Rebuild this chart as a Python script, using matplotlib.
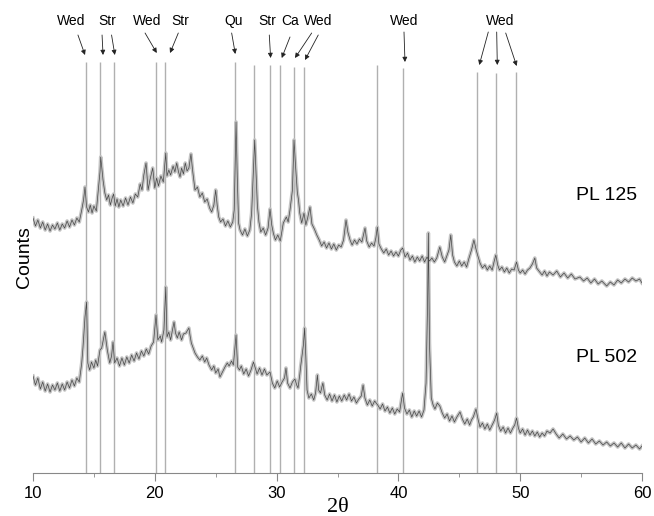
import matplotlib
matplotlib.use("Agg")
import matplotlib.pyplot as plt

# XRD patterns, counts are arbitrary units
pl125 = [
    (10.0, 255), (10.2, 247), (10.4, 253), (10.6, 245), (10.8, 251), (11.0, 243), (11.2, 249),
    (11.4, 242), (11.6, 248), (11.8, 244), (12.0, 250), (12.2, 243), (12.4, 249), (12.6, 245),
    (12.8, 252), (13.0, 246), (13.2, 253), (13.4, 248), (13.6, 255), (13.8, 251), (14.0, 263),
    (14.15, 273), (14.27, 286), (14.4, 266), (14.55, 261), (14.7, 268), (14.85, 260), (15.0, 267),
    (15.2, 262), (15.36, 283), (15.5, 301), (15.56, 316), (15.65, 305), (15.75, 293), (15.9, 280),
    (16.05, 273), (16.2, 278), (16.35, 268), (16.5, 275), (16.62, 279), (16.75, 267), (16.9, 274),
    (17.05, 266), (17.2, 273), (17.4, 267), (17.6, 275), (17.8, 268), (18.0, 276), (18.2, 270),
    (18.4, 279), (18.6, 276), (18.8, 289), (18.95, 283), (19.1, 298), (19.28, 310), (19.45, 283),
    (19.6, 293), (19.83, 305), (20.0, 285), (20.15, 295), (20.3, 287), (20.5, 297), (20.7, 291),
    (20.9, 320), (21.0, 297), (21.15, 303), (21.3, 298), (21.5, 307), (21.65, 301), (21.8, 310),
    (21.95, 301), (22.07, 296), (22.2, 305), (22.35, 299), (22.5, 310), (22.65, 302), (22.8, 305),
    (22.97, 319), (23.1, 303), (23.2, 293), (23.3, 283), (23.5, 286), (23.7, 276), (23.9, 280),
    (24.1, 271), (24.3, 274), (24.5, 265), (24.67, 261), (24.85, 268), (25.0, 283), (25.12, 268),
    (25.25, 256), (25.4, 251), (25.6, 254), (25.8, 247), (26.0, 252), (26.2, 246), (26.4, 251),
    (26.52, 263), (26.67, 351), (26.77, 296), (26.88, 250), (27.0, 243), (27.2, 238), (27.4, 244),
    (27.6, 237), (27.8, 243), (27.95, 260), (28.08, 298), (28.2, 333), (28.3, 303), (28.42, 268),
    (28.55, 251), (28.7, 241), (28.9, 245), (29.1, 238), (29.3, 245), (29.46, 264), (29.6, 248),
    (29.73, 240), (29.9, 233), (30.1, 238), (30.3, 232), (30.45, 243), (30.55, 250), (30.8, 256),
    (30.95, 251), (31.1, 263), (31.3, 283), (31.43, 333), (31.55, 308), (31.7, 281), (31.8, 273),
    (31.9, 260), (32.06, 250), (32.25, 260), (32.4, 248), (32.55, 255), (32.74, 266), (32.9, 249),
    (33.1, 244), (33.3, 238), (33.5, 233), (33.7, 227), (33.9, 231), (34.1, 225), (34.3, 230),
    (34.5, 224), (34.7, 229), (34.9, 223), (35.1, 228), (35.3, 226), (35.5, 233), (35.7, 253),
    (35.85, 241), (36.03, 233), (36.2, 228), (36.4, 233), (36.6, 229), (36.8, 234), (37.0, 231),
    (37.15, 239), (37.26, 245), (37.4, 232), (37.6, 226), (37.8, 230), (38.0, 227), (38.15, 235),
    (38.27, 246), (38.4, 229), (38.6, 224), (38.8, 220), (39.0, 224), (39.2, 218), (39.4, 222),
    (39.6, 217), (39.8, 221), (40.0, 217), (40.2, 223), (40.35, 225), (40.55, 216), (40.75, 220),
    (40.95, 213), (41.15, 217), (41.35, 211), (41.55, 216), (41.75, 212), (41.95, 217), (42.15, 211),
    (42.35, 216), (42.55, 212), (42.75, 215), (42.95, 211), (43.15, 215), (43.4, 226), (43.6, 216),
    (43.8, 211), (44.0, 218), (44.15, 223), (44.3, 238), (44.45, 218), (44.6, 211), (44.8, 207),
    (45.0, 212), (45.2, 207), (45.4, 211), (45.6, 206), (45.8, 215), (46.0, 223), (46.2, 233),
    (46.35, 225), (46.5, 218), (46.7, 210), (46.9, 205), (47.1, 208), (47.3, 203), (47.5, 207),
    (47.7, 203), (47.85, 211), (48.0, 218), (48.15, 208), (48.3, 203), (48.5, 206), (48.7, 201),
    (48.9, 205), (49.1, 200), (49.3, 204), (49.5, 203), (49.7, 211), (49.85, 203), (50.0, 200),
    (50.2, 203), (50.4, 199), (50.6, 203), (50.8, 205), (51.0, 209), (51.2, 215), (51.35, 205),
    (51.6, 201), (51.8, 198), (52.0, 202), (52.2, 197), (52.4, 201), (52.7, 198), (53.0, 202),
    (53.3, 196), (53.6, 200), (53.9, 195), (54.2, 199), (54.5, 194), (54.9, 196), (55.2, 192),
    (55.5, 195), (55.8, 190), (56.1, 194), (56.4, 189), (56.7, 192), (57.1, 187), (57.4, 191),
    (57.7, 188), (58.0, 193), (58.3, 190), (58.6, 194), (58.9, 191), (59.2, 195), (59.5, 192),
    (59.8, 194), (60.0, 190),
]

pl502 = [
    (10.0, 97), (10.2, 88), (10.4, 95), (10.6, 84), (10.8, 91), (11.0, 82), (11.2, 89),
    (11.4, 81), (11.6, 88), (11.8, 83), (12.0, 90), (12.2, 82), (12.4, 89), (12.6, 83),
    (12.8, 91), (13.0, 85), (13.2, 93), (13.4, 87), (13.6, 95), (13.8, 91), (14.0, 110),
    (14.1, 125), (14.27, 156), (14.4, 171), (14.5, 110), (14.65, 103), (14.8, 111), (15.0, 105),
    (15.15, 113), (15.3, 107), (15.5, 123), (15.64, 125), (15.9, 141), (16.1, 123), (16.3, 110),
    (16.45, 117), (16.57, 131), (16.7, 110), (16.9, 115), (17.1, 107), (17.3, 115), (17.5, 108),
    (17.7, 116), (17.9, 110), (18.1, 118), (18.3, 112), (18.5, 120), (18.7, 114), (18.9, 122),
    (19.1, 117), (19.3, 124), (19.5, 119), (19.7, 127), (19.9, 131), (20.1, 158), (20.25, 133),
    (20.45, 137), (20.56, 131), (20.75, 143), (20.9, 186), (21.0, 136), (21.15, 141), (21.3, 133),
    (21.45, 143), (21.58, 151), (21.7, 140), (21.85, 135), (22.0, 141), (22.2, 133), (22.35, 139),
    (22.56, 140), (22.8, 145), (22.9, 137), (23.0, 130), (23.15, 125), (23.3, 120), (23.5, 116),
    (23.7, 113), (23.9, 117), (24.1, 111), (24.26, 115), (24.45, 108), (24.67, 103), (24.85, 107),
    (25.0, 100), (25.2, 104), (25.35, 96), (25.55, 101), (25.76, 106), (25.95, 110), (26.1, 107),
    (26.3, 112), (26.45, 108), (26.55, 121), (26.67, 138), (26.8, 106), (26.95, 103), (27.1, 107),
    (27.3, 99), (27.5, 104), (27.7, 97), (27.9, 103), (28.1, 111), (28.25, 105), (28.4, 99),
    (28.6, 105), (28.8, 98), (29.0, 104), (29.2, 98), (29.46, 101), (29.65, 90), (29.85, 85),
    (30.05, 92), (30.25, 86), (30.45, 91), (30.65, 95), (30.77, 105), (30.9, 90), (31.1, 85),
    (31.3, 91), (31.5, 94), (31.65, 88), (31.76, 85), (31.9, 98), (31.98, 107), (32.1, 118),
    (32.2, 128), (32.3, 145), (32.4, 116), (32.5, 83), (32.65, 75), (32.85, 79), (33.05, 73),
    (33.2, 80), (33.35, 98), (33.45, 83), (33.6, 80), (33.8, 90), (33.95, 78), (34.15, 73),
    (34.35, 79), (34.55, 72), (34.75, 78), (34.95, 71), (35.15, 77), (35.35, 72), (35.55, 78),
    (35.75, 73), (35.95, 79), (36.15, 72), (36.35, 76), (36.55, 70), (36.75, 74), (36.95, 77),
    (37.1, 88), (37.25, 75), (37.45, 68), (37.65, 73), (37.85, 67), (38.05, 72), (38.3, 68),
    (38.5, 64), (38.7, 69), (38.9, 62), (39.1, 66), (39.3, 60), (39.5, 65), (39.7, 59),
    (39.9, 64), (40.1, 61), (40.25, 73), (40.35, 80), (40.5, 65), (40.7, 59), (40.9, 63),
    (41.1, 56), (41.3, 62), (41.5, 57), (41.7, 62), (41.9, 56), (42.1, 63), (42.27, 90),
    (42.4, 173), (42.46, 240), (42.55, 130), (42.7, 75), (42.85, 68), (43.0, 64), (43.2, 70),
    (43.4, 67), (43.6, 60), (43.8, 55), (44.0, 59), (44.2, 52), (44.4, 57), (44.6, 51),
    (44.8, 56), (45.06, 61), (45.25, 54), (45.45, 49), (45.65, 54), (45.85, 48), (46.0, 53),
    (46.15, 56), (46.37, 64), (46.55, 53), (46.7, 46), (46.9, 50), (47.1, 44), (47.3, 49),
    (47.5, 43), (47.7, 48), (47.9, 53), (48.07, 60), (48.2, 48), (48.4, 42), (48.6, 46),
    (48.8, 40), (49.0, 45), (49.2, 40), (49.4, 45), (49.55, 48), (49.7, 55), (49.85, 45),
    (50.0, 40), (50.2, 44), (50.4, 38), (50.6, 43), (50.8, 38), (51.0, 42), (51.2, 37),
    (51.4, 41), (51.6, 36), (51.8, 40), (52.0, 37), (52.2, 42), (52.45, 40), (52.7, 44),
    (52.95, 39), (53.2, 35), (53.5, 39), (53.8, 34), (54.1, 37), (54.4, 33), (54.7, 36),
    (55.0, 31), (55.3, 35), (55.6, 30), (55.9, 34), (56.2, 29), (56.5, 32), (56.8, 28),
    (57.1, 31), (57.4, 27), (57.7, 30), (58.0, 26), (58.3, 30), (58.6, 25), (58.9, 29),
    (59.2, 25), (59.5, 28), (59.8, 24), (60.0, 27),
]

# reference lines (2 theta) and how high they reach
ref_lines = [14.35, 15.5, 16.65, 20.1, 20.84, 26.58, 28.14, 29.46, 30.28,
             31.43, 32.25, 38.27, 40.4, 46.45, 47.99, 49.63]
ref_tops = [411, 411, 411, 411, 411, 411, 408, 408, 408,
            406, 406, 408, 405, 401, 400, 401]

# phase labels and their arrows
labels = ["Wed", "Str", "Wed", "Str", "Qu", "Str", "Ca", "Wed", "Wed", "Wed"]
label_x = [13.12, 16.08, 19.33, 22.07, 26.45, 29.27, 31.1, 33.42, 40.46, 48.34]
arrows = [  # (x start, y start, x tip, y tip)
    (13.69, 438, 14.27, 418),
    (15.67, 438, 15.75, 418), (16.45, 438, 16.72, 418),
    (19.2, 440, 20.16, 420),
    (21.93, 440, 21.25, 420),
    (26.31, 440, 26.61, 419),
    (29.4, 438, 29.51, 415),
    (31.1, 436, 30.42, 415),
    (32.88, 440, 31.51, 415), (33.42, 438, 32.33, 413),
    (40.46, 441, 40.54, 411),
    (47.38, 441, 46.64, 408), (48.07, 441, 48.12, 408), (48.81, 440, 49.71, 407),
]

fig = plt.figure(figsize=(6.54, 5.16), dpi=100)
ax = fig.add_axes([33 / 654, 43 / 516, 609 / 654, 463 / 516])
plt.rcParams['font.family'] = ['Liberation Sans', 'DejaVu Sans']

ax.vlines(ref_lines, 0, ref_tops, color="#b0b0b0", lw=1.0, zorder=1)

for data in (pl125, pl502):
    xs = [p[0] for p in data]
    ys = [p[1] for p in data]
    ax.plot(xs, ys, color="#c4c4c4", lw=2.6, zorder=2, solid_joinstyle="round")
    ax.plot(xs, ys, color="#474747", lw=0.5, zorder=3)

for txt, x in zip(labels, label_x):
    ax.text(x, 452, txt, ha="center", va="center", fontsize=10,
            family="Liberation Sans")
for x0, y0, x1, y1 in arrows:
    ax.annotate("", xy=(x1, y1), xytext=(x0, y0),
                arrowprops=dict(arrowstyle="-|>", color="#222222", lw=0.6,
                                mutation_scale=7, shrinkA=0, shrinkB=0))

ax.text(54.6, 277, "PL 125", fontsize=14, va="center", family="Liberation Sans")
ax.text(54.6, 116, "PL 502", fontsize=14, va="center", family="Liberation Sans")

ax.set_xlim(10, 60)
ax.set_ylim(0, 463)
ax.set_xticks([10, 20, 30, 40, 50, 60])
ax.set_xticks([15, 25, 35, 45, 55], minor=True)
ax.set_yticks([])
for s in ("left", "right", "top"):
    ax.spines[s].set_visible(False)
ax.spines["bottom"].set_color("#888888")
ax.tick_params(axis="x", which="major", length=6, color="#888888", labelsize=12, pad=3)
ax.tick_params(axis="x", which="minor", length=3, color="#888888")
for lab in ax.get_xticklabels():
    lab.set_family("Liberation Sans")

fig.text(24 / 654, 1 - 257 / 516, "Counts", rotation=90, ha="center", va="center",
         fontsize=14, family="Liberation Sans")
fig.text(338 / 654, 1 - 508 / 516, "2\u03b8", ha="center", va="center",
         fontsize=16, family="Liberation Serif")

fig.savefig("out.png", dpi=100)
